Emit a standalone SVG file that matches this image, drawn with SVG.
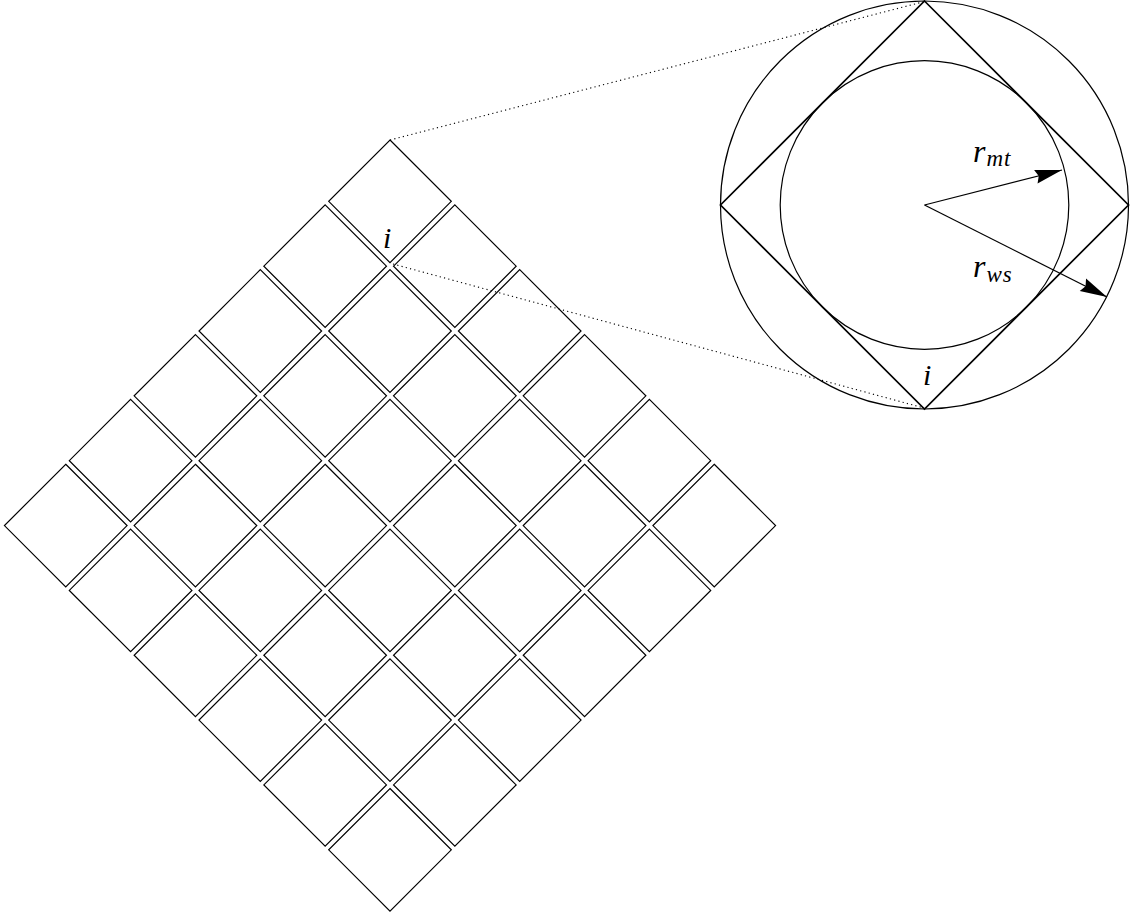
<svg xmlns="http://www.w3.org/2000/svg" xmlns:xlink="http://www.w3.org/1999/xlink" width="1130" height="915" viewBox="0 0 1130 915">
<style>
.ln{fill:none;stroke:#000;stroke-width:1.2}
.thick{fill:none;stroke:#000;stroke-width:1.7}
.dot{fill:none;stroke:#000;stroke-width:1.1;stroke-dasharray:1.2 3.2}
.lbl{font-family:"Liberation Serif",serif;font-style:italic;font-size:30px;fill:#000}
.big{font-size:32px}
.sub{font-size:23px;letter-spacing:1px}
</style>
<defs>
<polygon id="cell" class="ln" points="0,-61.3 61.3,0 0,61.3 -61.3,0"/>
<marker id="ah" markerUnits="userSpaceOnUse" markerWidth="30" markerHeight="16" viewBox="0 -8 28 16" refX="27" refY="0" orient="auto">
<path d="M0,-7 L27,0 L0,7 L3,0 z" fill="#000"/>
</marker>
</defs>
<g id="grid">
<g id="c00"><use xlink:href="#cell" x="390" y="201.3"/></g>
<g id="c01"><use xlink:href="#cell" x="454.85" y="266.15"/></g>
<g id="c02"><use xlink:href="#cell" x="519.7" y="331"/></g>
<g id="c03"><use xlink:href="#cell" x="584.55" y="395.85"/></g>
<g id="c04"><use xlink:href="#cell" x="649.4" y="460.7"/></g>
<g id="c05"><use xlink:href="#cell" x="714.25" y="525.55"/></g>
<g id="c10"><use xlink:href="#cell" x="325.15" y="266.15"/></g>
<g id="c11"><use xlink:href="#cell" x="390" y="331"/></g>
<g id="c12"><use xlink:href="#cell" x="454.85" y="395.85"/></g>
<g id="c13"><use xlink:href="#cell" x="519.7" y="460.7"/></g>
<g id="c14"><use xlink:href="#cell" x="584.55" y="525.55"/></g>
<g id="c15"><use xlink:href="#cell" x="649.4" y="590.4"/></g>
<g id="c20"><use xlink:href="#cell" x="260.3" y="331"/></g>
<g id="c21"><use xlink:href="#cell" x="325.15" y="395.85"/></g>
<g id="c22"><use xlink:href="#cell" x="390" y="460.7"/></g>
<g id="c23"><use xlink:href="#cell" x="454.85" y="525.55"/></g>
<g id="c24"><use xlink:href="#cell" x="519.7" y="590.4"/></g>
<g id="c25"><use xlink:href="#cell" x="584.55" y="655.25"/></g>
<g id="c30"><use xlink:href="#cell" x="195.45" y="395.85"/></g>
<g id="c31"><use xlink:href="#cell" x="260.3" y="460.7"/></g>
<g id="c32"><use xlink:href="#cell" x="325.15" y="525.55"/></g>
<g id="c33"><use xlink:href="#cell" x="390" y="590.4"/></g>
<g id="c34"><use xlink:href="#cell" x="454.85" y="655.25"/></g>
<g id="c35"><use xlink:href="#cell" x="519.7" y="720.1"/></g>
<g id="c40"><use xlink:href="#cell" x="130.6" y="460.7"/></g>
<g id="c41"><use xlink:href="#cell" x="195.45" y="525.55"/></g>
<g id="c42"><use xlink:href="#cell" x="260.3" y="590.4"/></g>
<g id="c43"><use xlink:href="#cell" x="325.15" y="655.25"/></g>
<g id="c44"><use xlink:href="#cell" x="390" y="720.1"/></g>
<g id="c45"><use xlink:href="#cell" x="454.85" y="784.95"/></g>
<g id="c50"><use xlink:href="#cell" x="65.75" y="525.55"/></g>
<g id="c51"><use xlink:href="#cell" x="130.6" y="590.4"/></g>
<g id="c52"><use xlink:href="#cell" x="195.45" y="655.25"/></g>
<g id="c53"><use xlink:href="#cell" x="260.3" y="720.1"/></g>
<g id="c54"><use xlink:href="#cell" x="325.15" y="784.95"/></g>
<g id="c55"><use xlink:href="#cell" x="390" y="849.8"/></g>
<text class="lbl" x="383" y="248">i</text>
</g>
<g id="zoom">
<circle class="ln" cx="924.5" cy="205" r="204"/>
<circle class="ln" cx="924.5" cy="205" r="144.3"/>
<polygon class="thick" points="924.5,1 1128.5,205 924.5,409 720.5,205"/>
<text class="lbl" x="923" y="385">i</text>
<text class="lbl big" x="973" y="162">r<tspan class="sub" dx="1" dy="4">mt</tspan></text>
<text class="lbl big" x="973" y="277">r<tspan class="sub" dx="1" dy="5">ws</tspan></text>
</g>
<g id="connectors">
<line class="dot" x1="390" y1="140" x2="924.5" y2="1.5"/>
<line class="dot" x1="393" y1="264" x2="924" y2="408"/>
<line class="ln" x1="924.5" y1="205" x2="1062" y2="170" marker-end="url(#ah)"/>
<line class="ln" x1="924.5" y1="205" x2="1107" y2="297" marker-end="url(#ah)"/>
</g>
</svg>
